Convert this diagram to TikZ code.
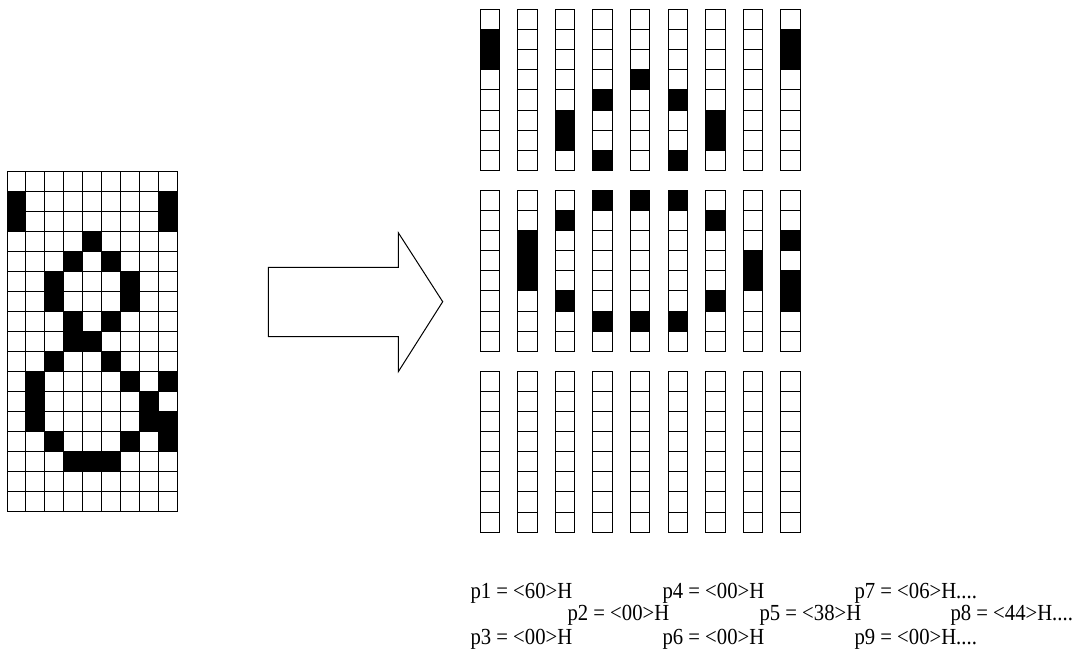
\documentclass[tikz,border=0pt]{standalone}
\usepackage{fontspec}
\setmainfont{Liberation Serif}
\newfontfamily\valfont[FakeStretch=0.9]{Liberation Serif}
\begin{document}
\begin{tikzpicture}[x=1pt,y=-1pt,line width=1pt,
  lbl/.style={anchor=base west,inner sep=0pt,font=\valfont\fontsize{23}{23}\selectfont}]
  \useasboundingbox (0,0) rectangle (1080,649);
  % left grid, 9 x 17
  \foreach \c/\r in {0/1,8/1,0/2,8/2,4/3,3/4,5/4,2/5,6/5,2/6,6/6,3/7,5/7,3/8,4/8,2/9,5/9,
      1/10,6/10,8/10,1/11,7/11,1/12,7/12,8/12,2/13,6/13,8/13,3/14,4/14,5/14}
    \fill (7+18.89*\c,171+20*\r) rectangle ++(18.89,20);
  \foreach \c in {0,...,8}
    \foreach \r in {0,...,16}
      \draw (7+18.89*\c,171+20*\r) rectangle ++(18.89,20);
  % big arrow
  \draw (268.3,267.3) -- (398.3,267.3) -- (398.3,232.7) -- (442.7,301.7)
    -- (398.3,371.7) -- (398.3,336.7) -- (268.3,336.7) -- cycle;
  % strips, three groups of 8 cells
  \foreach \s/\g/\k in {0/0/1,0/0/2,2/0/5,2/0/6,3/0/4,3/0/7,4/0/3,5/0/4,5/0/7,6/0/5,6/0/6,8/0/1,8/0/2,
      1/1/2,1/1/3,1/1/4,2/1/1,2/1/5,3/1/0,3/1/6,4/1/0,4/1/6,5/1/0,5/1/6,6/1/1,6/1/5,7/1/3,7/1/4,
      8/1/2,8/1/4,8/1/5}
    \fill (480+37.6*\s,9.3+180.85*\g+20.15*\k) rectangle ++(19.5,20.15);
  \foreach \s in {0,...,8}
    \foreach \g in {0,1,2}
      \foreach \k in {0,...,7}
        \draw (480+37.6*\s,9.3+180.85*\g+20.15*\k) rectangle ++(19.5,20.15);
  % byte values
  \node[lbl] (p1) at (470,598) {p1 = <60>H};
  \node[lbl] (p4) at (662,598) {p4 = <00>H};
  \node[lbl] (p7) at (854,598) {p7 = <06>H....};
  \node[lbl] (p2) at (567,620.5) {p2 = <00>H};
  \node[lbl] (p5) at (759,620.5) {p5 = <38>H};
  \node[lbl] (p8) at (950,620.5) {p8 = <44>H....};
  \node[lbl] (p3) at (470,644) {p3 = <00>H};
  \node[lbl] (p6) at (662,644) {p6 = <00>H};
  \node[lbl] (p9) at (854,644) {p9 = <00>H....};
\end{tikzpicture}
\end{document}
